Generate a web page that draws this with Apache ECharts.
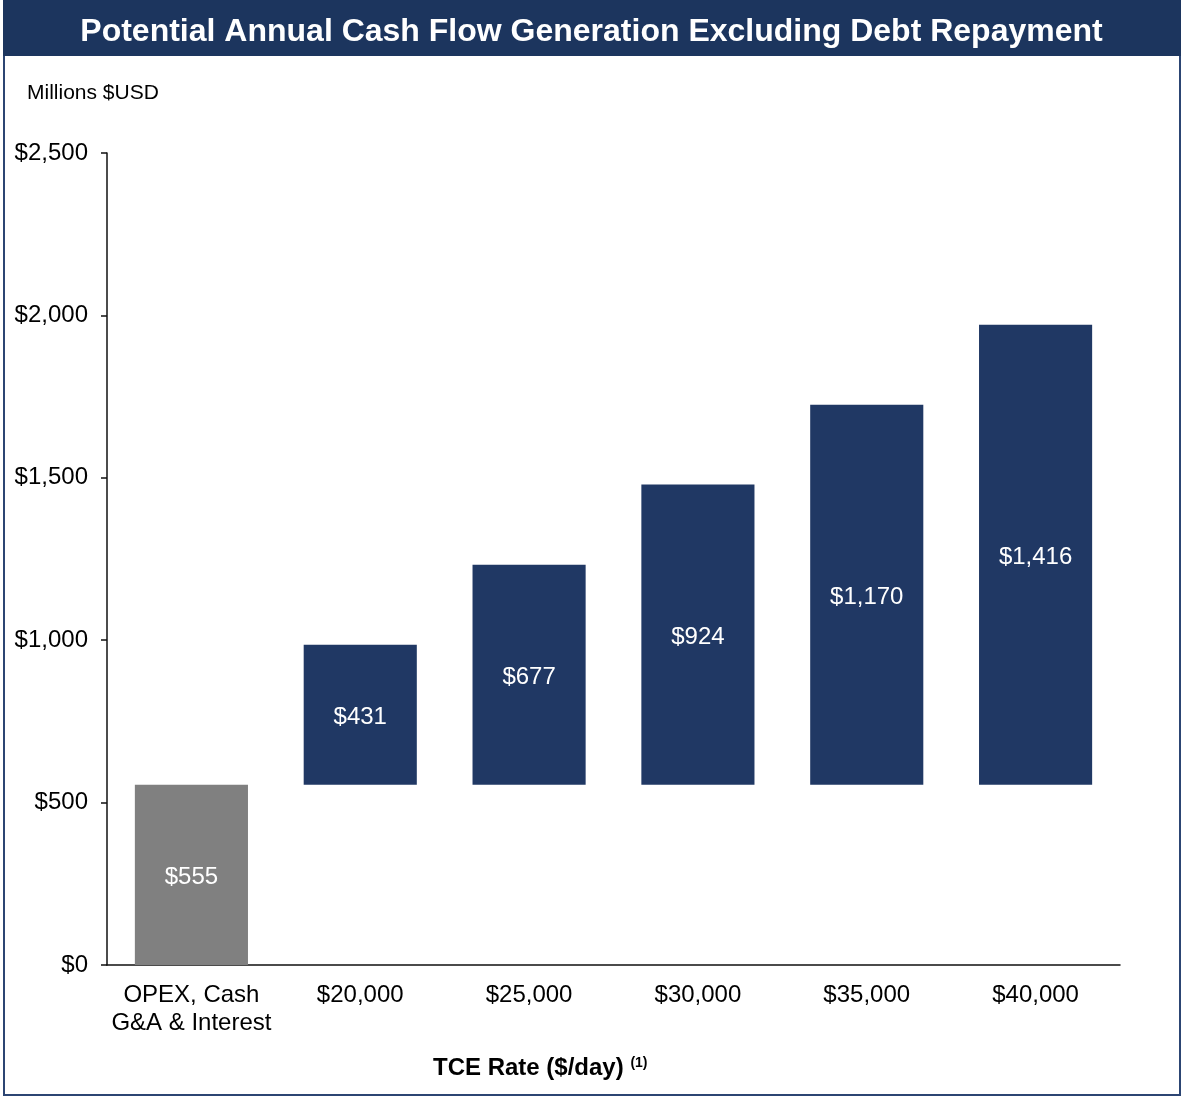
<!DOCTYPE html>
<html>
<head>
<meta charset="utf-8">
<script src="https://cdn.jsdelivr.net/npm/echarts@6/dist/echarts.min.js"></script>
<style>
  html, body { margin: 0; padding: 0; background: #fff; }
  #chart { width: 1183px; height: 1097px; }
</style>
</head>
<body>
<div id="chart"></div>
<script>
// categories along the x axis
var categories = ['OPEX, Cash\nG&A & Interest', '$20,000', '$25,000', '$30,000', '$35,000', '$40,000'];
// invisible base the cash flow bars sit on (first bar starts at 0)
var baseValues = [0, 555, 555, 555, 555, 555];
// visible bar heights, shown as labels
var barValues = [555, 431, 677, 924, 1170, 1416];
var yTicks = [0, 500, 1000, 1500, 2000, 2500];

var navy = '#203864';
var gray = '#808080';
var font = 'Liberation Sans, Arial, sans-serif';

var chartDom = document.getElementById('chart');
var myChart = echarts.init(chartDom);

function money(v) {
    return '$' + v.toLocaleString('en-US');
}

var option = {
    animation: false,
    textStyle: { fontFamily: font },
    graphic: [
        // outer frame
        {
            type: 'rect', silent: true,
            shape: { x: 4, y: 1, width: 1176, height: 1094 },
            style: { fill: 'none', stroke: '#2c4573', lineWidth: 2 }
        },
        // title bar
        {
            type: 'rect', silent: true,
            shape: { x: 3, y: 0, width: 1178, height: 56 },
            style: { fill: '#1c355e' }
        },
        {
            type: 'text', silent: true,
            left: 'center', top: 16,
            style: {
                text: 'Potential Annual Cash Flow Generation Excluding Debt Repayment',
                fill: '#fff', font: 'bold 32px ' + font
            }
        },
        {
            type: 'text', silent: true,
            left: 27, top: 83,
            style: { text: 'Millions $USD', fill: '#000', font: '21px ' + font }
        },
        {
            type: 'text', silent: true,
            left: 433, top: 1056,
            style: {
                text: '{a|TCE Rate ($/day)}  {b|(1)}',
                rich: {
                    a: { fill: '#000', font: 'bold 24px ' + font },
                    b: { fill: '#000', font: 'bold 14px ' + font, verticalAlign: 'top', padding: [0, 0, 10, 0] }
                }
            }
        }
    ],
    grid: { left: 107, right: 63, top: 153, bottom: 132, containLabel: false },
    xAxis: {
        type: 'category',
        data: categories,
        axisLine: { lineStyle: { color: '#111', width: 1.5 } },
        axisTick: { show: false },
        axisLabel: { color: '#000', fontSize: 24, lineHeight: 28, margin: 16, interval: 0 }
    },
    yAxis: {
        type: 'value',
        min: yTicks[0],
        max: yTicks[yTicks.length - 1],
        interval: 500,
        splitLine: { show: false },
        axisLine: { show: true, lineStyle: { color: '#111', width: 1.5 } },
        axisTick: { show: true, length: 6, lineStyle: { color: '#111', width: 1.5 } },
        axisLabel: { color: '#000', fontSize: 24, margin: 19, padding: [10, 0, 0, 0], formatter: money }
    },
    series: [
        {
            name: 'base',
            type: 'bar',
            stack: 'cf',
            silent: true,
            barWidth: '67%',
            itemStyle: { color: 'transparent' },
            data: baseValues
        },
        {
            name: 'cash flow',
            type: 'bar',
            stack: 'cf',
            barWidth: '67%',
            data: barValues.map(function (v, i) {
                return { value: v, itemStyle: { color: i === 0 ? gray : navy } };
            }),
            label: {
                show: true,
                position: 'inside',
                offset: [0, 3],
                color: '#fff',
                fontSize: 24,
                formatter: function (p) { return money(p.value); }
            }
        }
    ]
};

myChart.setOption(option);
</script>
</body>
</html>
